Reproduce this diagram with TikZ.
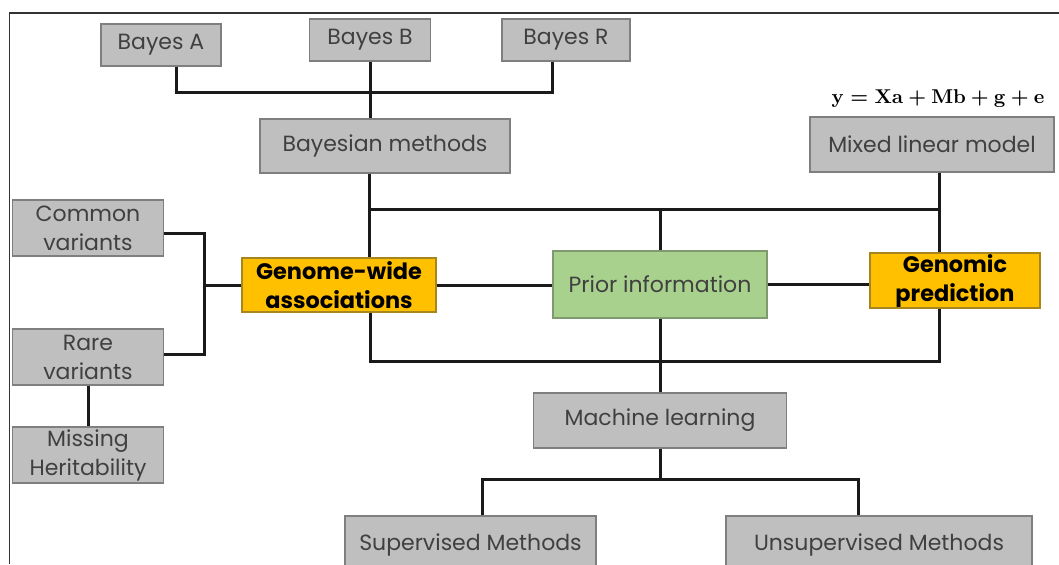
\documentclass[tikz,border=0pt]{standalone}
\usepackage{amsmath}
\usepackage[no-math]{fontspec}
\setmainfont{Poppins}
\usepackage{tikz}
\usetikzlibrary{calc}
\usepackage{xcolor}
\definecolor{boxgray}{HTML}{BFBFBF}
\definecolor{boxline}{HTML}{7F7F7F}
\definecolor{gold}{HTML}{FFC000}
\definecolor{goldline}{HTML}{A8861E}
\definecolor{leafgreen}{HTML}{A9D18E}
\definecolor{greenline}{HTML}{7E9A6E}
\definecolor{txt}{HTML}{404040}
\definecolor{linkc}{HTML}{1A1A1A}
\definecolor{framec}{HTML}{333333}
\newcommand{\gpmodel}{{\boldmath\(\mathbf{y}=\mathbf{Xa}+\mathbf{Mb}+\mathbf{g}+\mathbf{e}\)}}

\begin{document}
\begin{tikzpicture}[x=0.5pt,y=-0.5pt,
        box/.style={draw=boxline, fill=boxgray, text=txt, line width=0.6pt, align=center,
            inner sep=0pt, font=\fontsize{11}{14.5}\selectfont},
        keybox/.style={box, fill=gold, draw=goldline, text=black,
            font=\fontsize{11.2}{14.5}\selectfont\bfseries},
        eqnlabel/.style={text=black, font=\fontsize{10.2}{12}\selectfont},
        link/.style={draw=linkc, line width=1.5pt}]
        \clip (0,0) rectangle (1059,564);
        \fill[white] (0,0) rectangle (1059,564);
        \draw[framec, line width=0.7pt] (9.5,564) -- (9.5,13) -- (1059,13);

        \coordinate (bayesbus) at (0,92);
        \coordinate (topbus) at (0,209);
        \coordinate (lowbus) at (0,361);
        \coordinate (mlbus) at (0,479);
        \coordinate (leftbus) at (204,0);

        \node[box, minimum width=60pt, minimum height=21pt] (bayesA) at (161,45) {Bayes A};
        \node[box, minimum width=60.5pt, minimum height=21pt] (bayesB) at (370,40) {Bayes B};
        \node[box, minimum width=64pt, minimum height=21pt] (bayesR) at (566,40) {Bayes R};
        \node[box, minimum width=125pt, minimum height=27pt] (bayes) at (385,146) {Bayesian methods};
        \node[box, minimum width=122pt, minimum height=27.5pt] (mlm) at (932,144.5) {Mixed linear model};
        \node[eqnlabel] (model) at (938,98) {\gpmodel};

        \node[box, minimum width=75.5pt, minimum height=28pt] (common) at (88,228) {Common\\variants};
        \node[box, minimum width=75.5pt, minimum height=28pt] (rare) at (88,357) {Rare\\variants};
        \node[box, minimum width=75.5pt, minimum height=28pt] (missing) at (88,455) {Missing\\Heritability};
        \node[keybox, minimum width=97pt, minimum height=27pt] (gwa) at (339,285) {Genome-wide\\associations};
        \node[box, fill=leafgreen, draw=greenline, minimum width=107pt, minimum height=33.5pt] (prior) at (660,284.5) {Prior information};
        \node[keybox, minimum width=85pt, minimum height=27.5pt] (gp) at (955,280.5) {Genomic\\prediction};

        \node[box, minimum width=126.5pt, minimum height=27.5pt] (ml) at (660,420.5) {Machine learning};
        \node[box, minimum width=125.5pt, minimum height=29pt] (sup) at (470.5,545) {Supervised Methods};
        \node[box, minimum width=153pt, minimum height=29pt] (unsup) at (879,545) {Unsupervised Methods};

        \draw[link] ([xshift=7.5pt]bayesA.south) |- ([xshift=-7pt]bayesR.south |- bayesbus) -- ([xshift=-7pt]bayesR.south);
        \draw[link] (bayesB.south) -- (bayesB.south |- bayes.north);

        \draw[link] ([xshift=-8pt]bayes.south) -- ([xshift=-8pt]bayes.south |- gwa.north);
        \draw[link] ([xshift=3.5pt]mlm.south) -- ([xshift=-8pt]gp.north);
        \draw[link] ([xshift=-8pt]bayes.south |- topbus) -- ([xshift=-8pt]gp.north |- topbus);
        \draw[link] (prior.north) -- (prior.north |- topbus);
        \draw[link] (gwa.east) -- (gwa.east -| prior.west);
        \draw[link] (prior.east) -- (prior.east -| gp.west);
        \draw[link] ([xshift=15.5pt]gwa.south) |- ([xshift=-8pt]gp.south |- lowbus) -- ([xshift=-8pt]gp.south);

        \draw[link] ([yshift=-2.5pt]common.east) -| ([yshift=1.5pt]rare.east -| leftbus) -- ([yshift=1.5pt]rare.east);
        \draw[link] (gwa.west) -- (gwa.west -| leftbus);
        \draw[link] (rare.south) -- (missing.north);

        \draw[link] (prior.south) -- (ml.north);
        \draw[link] (ml.south) -- (ml.south |- mlbus);
        \draw[link] ([xshift=5.75pt]sup.north) |- ([xshift=-10.5pt]unsup.north |- mlbus) -- ([xshift=-10.5pt]unsup.north);
    \end{tikzpicture}
\end{document}
